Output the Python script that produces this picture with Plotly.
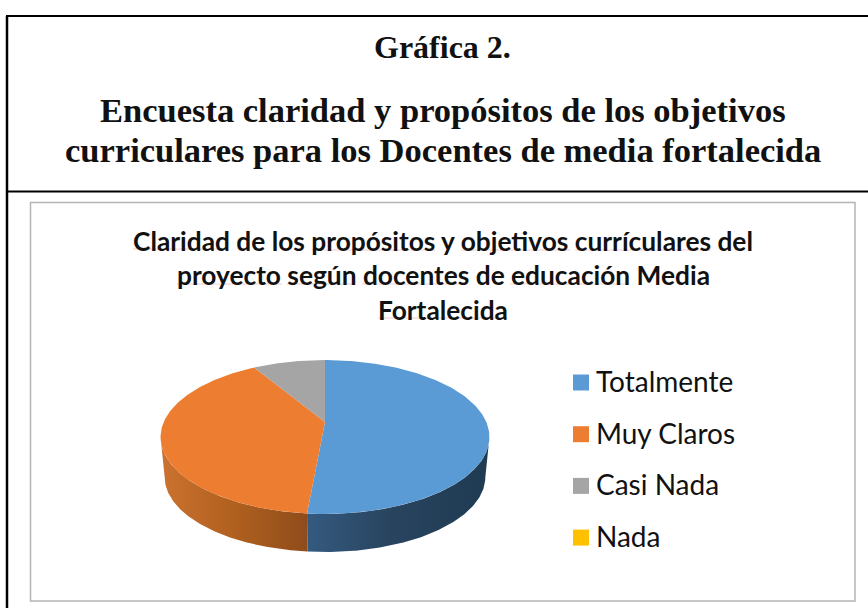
import numpy as np
import plotly.graph_objects as go

categories = ["Totalmente", "Muy Claros", "Casi Nada", "Nada"]
values = [18, 14, 3, 0]
colors = ["#5B9BD5", "#ED7D31", "#A5A5A5", "#FFC000"]
side_scales = {
    "Totalmente": [[0, "#355A80"], [0.45, "#28445F"], [1, "#1F3B52"]],
    "Muy Claros": [[0, "#CC7230"], [0.5, "#B0601F"], [1, "#8F4C1B"]],
}
heading_1 = "Gráfica 2."
heading_2 = ["Encuesta claridad y propósitos de los objetivos",
             "curriculares para los Docentes de media fortalecida"]
chart_title = ["Claridad de los propósitos y objetivos currículares del",
               "proyecto según docentes de educación Media",
               "Fortalecida"]
# faint proofing underlines seen below some title words: (x start, x end, y)
underlines = [(133, 228, 249), (312, 435, 250), (461, 570, 250), (575, 711, 250),
              (177, 282, 284), (287, 355, 284), (362, 468, 284), (510, 628, 284),
              (378, 508, 318)]

W, H = 868, 608
CX, AY, A, HH, K = 325, 422, 161.3, 74, 0.195
SCALE2, AY2 = 0.975, 462.4


def rim(theta, a=A, h=HH, ay=AY):
    u, v = np.sin(theta), np.cos(theta)
    d = 1 + K * v
    return CX + a * u / d, ay - h * v / d


fig = go.Figure()
total = sum(values)
edges = np.cumsum([0] + values) / total * 2 * np.pi
wall_lo = np.pi / 2 + np.arcsin(K)
wall_hi = 3 * np.pi / 2 - np.arcsin(K)

# side walls first
for i, cat in enumerate(categories):
    if values[i] == 0 or cat not in side_scales:
        continue
    lo = max(edges[i], wall_lo)
    hi = min(edges[i + 1], wall_hi)
    t = np.linspace(lo, hi, 160)
    x1, y1 = rim(t)
    x2, y2 = rim(t, A * SCALE2, HH * SCALE2, AY2)
    xs = np.r_[x1, x2[::-1], x1[0]]
    ys = np.r_[y1, y2[::-1], y1[0]]
    fig.add_trace(go.Scatter(
        x=xs, y=ys, mode="lines", fill="toself", line=dict(width=0),
        fillgradient=dict(type="horizontal", colorscale=side_scales[cat]),
        showlegend=False, hoverinfo="skip"))

# top faces
for i, cat in enumerate(categories):
    if values[i] == 0:
        continue
    t = np.linspace(edges[i], edges[i + 1], 200)
    x, y = rim(t)
    xs = np.r_[CX, x, CX]
    ys = np.r_[AY, y, AY]
    fig.add_trace(go.Scatter(x=xs, y=ys, mode="lines", fill="toself",
                             fillcolor=colors[i], line=dict(width=0),
                             name=cat, showlegend=False, hoverinfo="skip"))

# legend
leg_y = 382.5 + np.arange(len(categories)) * 51.7
fig.add_trace(go.Scatter(
    x=[581] * len(categories), y=leg_y, mode="markers",
    marker=dict(symbol="square", size=16, color=colors, line=dict(width=0)),
    showlegend=False, hoverinfo="skip"))
fig.add_trace(go.Scatter(
    x=[596] * len(categories), y=leg_y + 2.5, mode="text",
    text=categories, textposition="middle right",
    textfont=dict(family="Lato", size=28, color="#111111"),
    showlegend=False, hoverinfo="skip"))

# frame
shapes = [
    dict(type="line", x0=7, x1=7, y0=16, y1=H, line=dict(color="black", width=2.5)),
    dict(type="line", x0=6, x1=W, y0=16, y1=16, line=dict(color="black", width=2)),
    dict(type="line", x0=6, x1=W, y0=191.5, y1=191.5, line=dict(color="black", width=2)),
    dict(type="rect", x0=30.5, x1=855, y0=202.5, y1=601, line=dict(color="#B4B4B4", width=1.5)),
]
for x0, x1, y in underlines:
    shapes.append(dict(type="line", x0=x0, x1=x1, y0=y, y1=y, line=dict(color="#F6CCCC", width=1)))

annos = [
    dict(x=442, y=47, text=f"<b>{heading_1}</b>", font=dict(family="Liberation Serif", size=32, color="#111111")),
]
for line, y in zip(heading_2, [110, 150]):
    annos.append(dict(x=442.5, y=y, text=f"<b>{line}</b>", font=dict(family="Liberation Serif", size=34.5, color="#111111")))
for line, y in zip(chart_title, [241, 275, 310]):
    annos.append(dict(x=443, y=y, text=f"<b>{line}</b>", font=dict(family="Lato", size=26.3, color="#111111")))
for a in annos:
    a.update(xref="x", yref="y", showarrow=False, xanchor="center", yanchor="middle", align="center")

fig.update_layout(
    width=W, height=H, margin=dict(l=0, r=0, t=0, b=0),
    paper_bgcolor="white", plot_bgcolor="white", showlegend=False,
    xaxis=dict(range=[0, W], visible=False, fixedrange=True),
    yaxis=dict(range=[H, 0], visible=False, fixedrange=True),
    shapes=shapes, annotations=annos,
)
fig.write_html("out.html", config={"displayModeBar": False},
               post_script="document.body.style.margin='0';")
